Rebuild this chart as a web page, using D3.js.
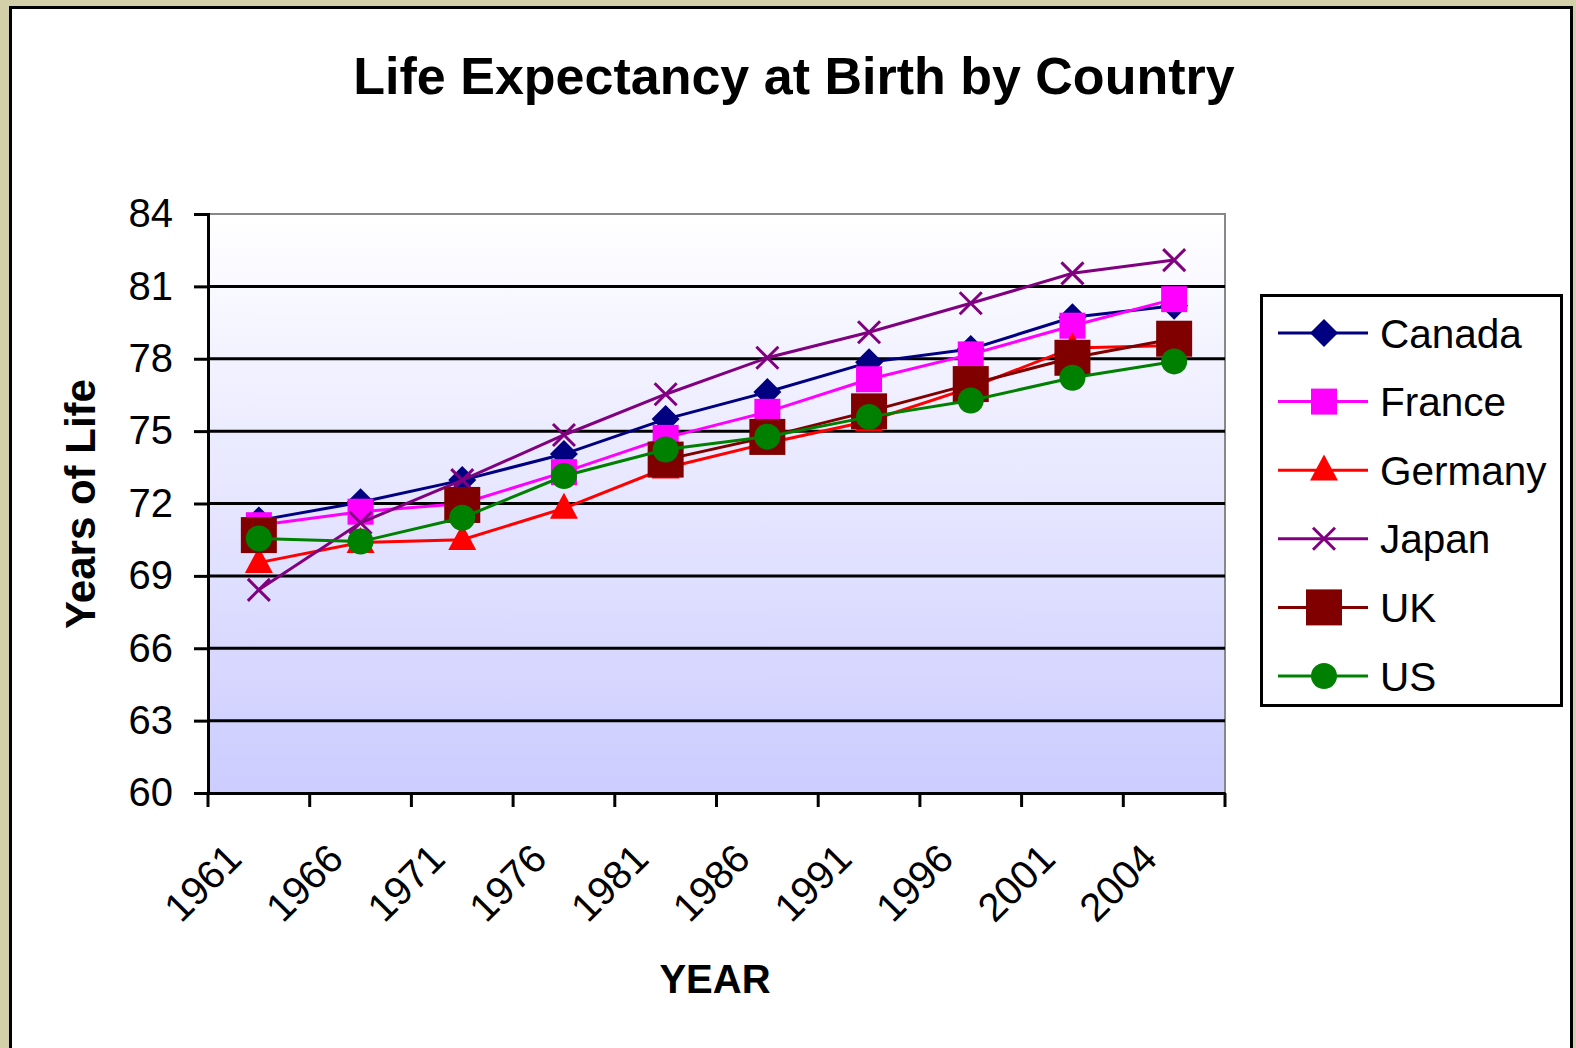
<!DOCTYPE html>
<html>
<head>
<meta charset="utf-8">
<script src="https://cdn.jsdelivr.net/npm/d3@7"></script>
<style>
  html, body { margin: 0; padding: 0; background: #d3cfa8; }
  svg { display: block; }
  text { font-family: "Liberation Sans", Arial, sans-serif; fill: #000; }
</style>
</head>
<body>
<svg id="chart" width="1576" height="1048"></svg>
<script>
// ---- data ----
const years = ["1961", "1966", "1971", "1976", "1981", "1986", "1991", "1996", "2001", "2004"];
const canada  = [71.3, 72.05, 72.97, 74.05, 75.5, 76.62, 77.85, 78.4, 79.72, 80.2];
const france  = [71.1, 71.66, 72.0, 73.3, 74.72, 75.8, 77.15, 78.18, 79.37, 80.47];
const germany = [69.55, 70.38, 70.5, 71.8, 73.47, 74.5, 75.42, 76.8, 78.45, 78.55];
const japan   = [68.42, 71.2, 72.97, 74.84, 76.53, 78.04, 79.1, 80.3, 81.54, 82.09];
const uk      = [70.69, null, 71.94, null, 73.82, 74.76, 75.82, 76.95, 78.04, 78.83];
const us      = [70.55, 70.42, 71.41, 73.14, 74.24, 74.77, 75.59, 76.27, 77.21, 77.89];
const seriesNames = ["Canada", "France", "Germany", "Japan", "UK", "US"];
const yTicks = [60, 63, 66, 69, 72, 75, 78, 81, 84];

const seriesValues = [canada, france, germany, japan, uk, us];
const colors = ["#000080", "#ff00ff", "#ff0000", "#800080", "#800000", "#008000"];
const markers = ["diamond", "square", "triangle", "x", "bigsquare", "circle"];

const svg = d3.select("#chart");

// frame
svg.append("rect").attr("x", 10.5).attr("y", 7.5).attr("width", 1561).attr("height", 1060)
  .attr("fill", "#fff").attr("stroke", "#000").attr("stroke-width", 3);

const plot = { left: 208, right: 1225, top: 214, bottom: 793 };
const x = d3.scaleBand().domain(years).range([plot.left, plot.right]).padding(0);
const y = d3.scaleLinear().domain([60, 84]).range([plot.bottom, plot.top]);

// gradient
const defs = svg.append("defs");
const grad = defs.append("linearGradient").attr("id", "bg").attr("x1", 0).attr("y1", 0).attr("x2", 0).attr("y2", 1);
grad.append("stop").attr("offset", "0%").attr("stop-color", "#ffffff");
grad.append("stop").attr("offset", "100%").attr("stop-color", "#ccccff");

svg.append("rect").attr("x", plot.left).attr("y", plot.top)
  .attr("width", plot.right - plot.left).attr("height", plot.bottom - plot.top)
  .attr("fill", "url(#bg)").attr("stroke", "#888").attr("stroke-width", 2);

// gridlines
svg.append("g").selectAll("line").data(yTicks.filter(t => t > 60 && t < 84)).join("line")
  .attr("x1", plot.left).attr("x2", plot.right)
  .attr("y1", d => y(d)).attr("y2", d => y(d))
  .attr("stroke", "#000").attr("stroke-width", 3);

// y axis
const yAxis = d3.axisLeft(y).tickValues(yTicks).tickSize(14).tickPadding(21).tickFormat(d3.format("d"));
const gy = svg.append("g").attr("transform", `translate(${plot.left},0)`).call(yAxis);
gy.select(".domain").attr("stroke", "#000").attr("stroke-width", 3);
gy.selectAll(".tick line").attr("stroke", "#000").attr("stroke-width", 3);
gy.selectAll(".tick text").attr("font-size", 40).attr("font-family", "Liberation Sans, Arial, sans-serif").attr("fill", "#000");

// x axis: ticks at band boundaries
const xAxis = d3.axisBottom(x).tickSize(0).tickFormat("");
const gx = svg.append("g").attr("transform", `translate(0,${plot.bottom})`).call(xAxis);
gx.select(".domain").attr("stroke", "#000").attr("stroke-width", 3);
gx.selectAll(".tick").remove();
const bounds = years.map(d => x(d)).concat([x(years[years.length - 1]) + x.bandwidth()]);
svg.append("g").selectAll("line").data(bounds).join("line")
  .attr("x1", d => d).attr("x2", d => d)
  .attr("y1", plot.bottom).attr("y2", plot.bottom + 14)
  .attr("stroke", "#000").attr("stroke-width", 3);
svg.append("g").selectAll("text").data(years).join("text")
  .attr("transform", d => `translate(${x(d) + x.bandwidth() / 2 - 15},${plot.bottom + 68}) rotate(-45)`)
  .attr("text-anchor", "end")
  .attr("font-size", 40)
  .text(d => d);

// titles
svg.append("text").attr("x", 794).attr("y", 94).attr("text-anchor", "middle")
  .attr("font-size", 52).attr("font-weight", "bold").text("Life Expectancy at Birth by Country");
svg.append("text").attr("transform", "translate(95,504) rotate(-90)").attr("text-anchor", "middle")
  .attr("font-size", 42).attr("font-weight", "bold").text("Years of Life");
svg.append("text").attr("x", 715).attr("y", 993).attr("text-anchor", "middle")
  .attr("font-size", 40).attr("font-weight", "bold").text("YEAR");

// marker drawer
function drawMarker(g, type, cx, cy, color) {
  if (type === "diamond") {
    const r = 14;
    g.append("path").attr("d", `M${cx},${cy - r}L${cx + r},${cy}L${cx},${cy + r}L${cx - r},${cy}Z`).attr("fill", color);
  } else if (type === "square") {
    const s = 26;
    g.append("rect").attr("x", cx - s / 2).attr("y", cy - s / 2).attr("width", s).attr("height", s).attr("fill", color);
  } else if (type === "bigsquare") {
    const s = 36;
    g.append("rect").attr("x", cx - s / 2).attr("y", cy - s / 2).attr("width", s).attr("height", s).attr("fill", color);
  } else if (type === "triangle") {
    const w = 28, h = 26;
    g.append("path").attr("d", `M${cx},${cy - h * 0.6}L${cx + w / 2},${cy + h * 0.4}L${cx - w / 2},${cy + h * 0.4}Z`).attr("fill", color);
  } else if (type === "x") {
    const r = 11;
    g.append("path").attr("d", `M${cx - r},${cy - r}L${cx + r},${cy + r}M${cx - r},${cy + r}L${cx + r},${cy - r}`)
      .attr("stroke", color).attr("stroke-width", 3).attr("fill", "none");
  } else if (type === "circle") {
    g.append("circle").attr("cx", cx).attr("cy", cy).attr("r", 13).attr("fill", color);
  }
}

// series
const line = d3.line()
  .defined(d => d.v != null)
  .x(d => x(d.year) + x.bandwidth() / 2)
  .y(d => y(d.v));

seriesNames.forEach((name, i) => {
  const pts = years.map((yr, j) => ({ year: yr, v: seriesValues[i][j] }));
  const g = svg.append("g");
  g.append("path").datum(pts).attr("d", line)
    .attr("fill", "none").attr("stroke", colors[i]).attr("stroke-width", 3);
  pts.filter(p => p.v != null).forEach(p => {
    drawMarker(g, markers[i], x(p.year) + x.bandwidth() / 2, y(p.v), colors[i]);
  });
});

// legend
const lg = svg.append("g");
lg.append("rect").attr("x", 1261.5).attr("y", 295.5).attr("width", 300).attr("height", 410)
  .attr("fill", "#fff").attr("stroke", "#000").attr("stroke-width", 3);
seriesNames.forEach((name, i) => {
  const cy = 333 + i * 68.6;
  lg.append("line").attr("x1", 1278).attr("x2", 1368).attr("y1", cy).attr("y2", cy)
    .attr("stroke", colors[i]).attr("stroke-width", 3);
  drawMarker(lg, markers[i], 1324, cy, colors[i]);
  lg.append("text").attr("x", 1380).attr("y", cy).attr("dy", "0.36em")
    .attr("font-size", 40.5).text(name);
});
</script>
</body>
</html>
